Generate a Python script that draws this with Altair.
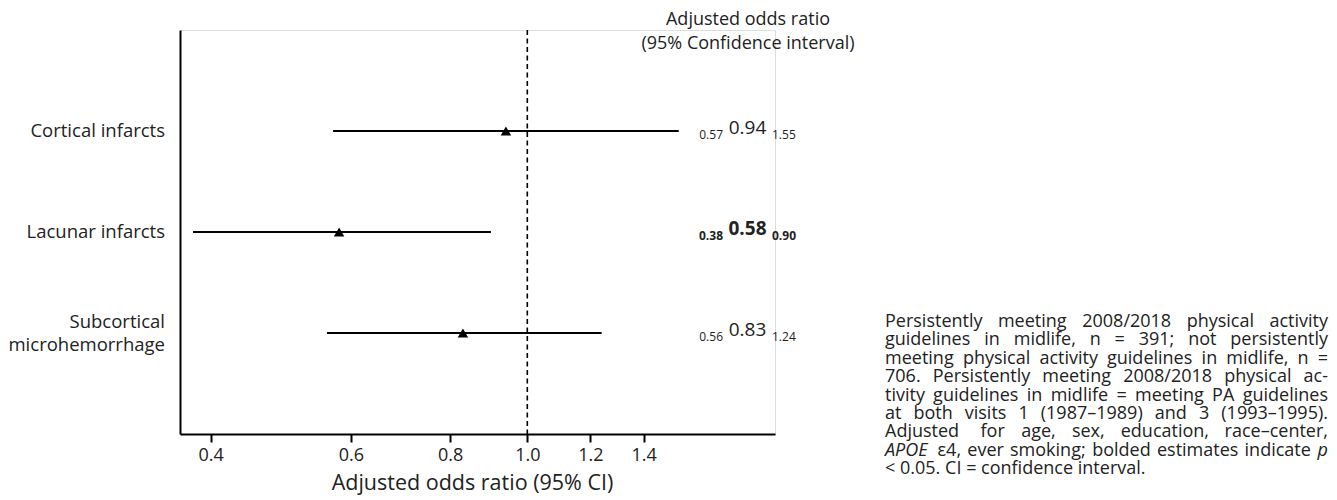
import altair as alt
import pandas as pd

# ---------------- data ----------------
outcomes = ["Cortical infarcts", "Lacunar infarcts", "Subcortical microhemorrhage"]
outcome_labels = ["Cortical infarcts", "Lacunar infarcts", "Subcortical\nmicrohemorrhage"]
or_vals = [0.94, 0.58, 0.83]
ci_low = [0.57, 0.38, 0.56]
ci_high = [1.55, 0.90, 1.24]
significant = [False, True, False]

x_ticks = [0.4, 0.6, 0.8, 1.0, 1.2, 1.4]
x_domain = [0.366, 2.048]
x_title = "Adjusted odds ratio (95% CI)"
header_lines = ["Adjusted odds ratio", "(95% Confidence interval)"]

footnote_lines = [
    "Persistently meeting 2008/2018 physical activity",
    "guidelines in midlife, n = 391; not persistently",
    "meeting physical activity guidelines in midlife, n =",
    "706. Persistently meeting 2008/2018 physical ac-",
    "tivity guidelines in midlife = meeting PA guidelines",
    "at both visits 1 (1987\u20131989) and 3 (1993\u20131995).",
    "Adjusted for age, sex, education, race\u2013center,",
    "APOE \u03b54, ever smoking; bolded estimates indicate p",
    "< 0.05. CI = confidence interval.",
]
italic_words = {"APOE", "p"}

FONT = "Open Sans"
TXT = "#222222"

# approximate Open Sans advance widths (units of 2048 per em), for justifying
ADV = {" ": 532, "(": 606, ")": 606, ",": 502, "-": 659, ".": 545, "/": 752,
       ";": 545, "<": 1171, "=": 1171, "\u2013": 1024, "\u03b5": 1010,
       "A": 1296, "C": 1292, "E": 1139, "I": 571, "O": 1599, "P": 1233,
       "a": 1139, "b": 1255, "c": 975, "d": 1255, "e": 1149, "f": 694,
       "g": 1122, "h": 1257, "i": 518, "k": 1075, "l": 518, "m": 1905,
       "n": 1257, "o": 1237, "p": 1255, "r": 836, "s": 977, "t": 723,
       "u": 1257, "v": 1026, "w": 1593, "x": 1073, "y": 1028}


def text_width(s, fs):
    return sum(ADV.get(ch, 1171 if ch.isdigit() else 1100) for ch in s) * fs / 2048.0


df = pd.DataFrame({
    "outcome": outcomes,
    "label": outcome_labels,
    "or": or_vals,
    "lo": ci_low,
    "hi": ci_high,
    "sig": significant,
})
df["or_txt"] = df["or"].map(lambda v: f"{v:.2f}")
df["lo_txt"] = df["lo"].map(lambda v: f"{v:.2f}")
df["hi_txt"] = df["hi"].map(lambda v: f"{v:.2f}")
df["multi"] = df["label"].str.contains("\n")

x_scale = alt.Scale(type="log", domain=x_domain, nice=False, zero=False)
x_axis = alt.Axis(
    values=x_ticks, format=".1f", title=x_title, grid=False,
    labelFont=FONT, labelFontSize=18, labelColor=TXT, labelPadding=4,
    titleFont=FONT, titleFontSize=21.5, titleFontWeight="normal", titleColor=TXT,
    titlePadding=8, titleX=292, titleAlign="center",
    tickSize=8, tickWidth=2, tickColor="black",
    domainColor="black", domainWidth=2,
)
y_enc = alt.Y(
    "outcome:N", sort=outcomes,
    scale=alt.Scale(type="point", padding=1),
    axis=alt.Axis(labels=False, ticks=False, title=None, grid=False,
                  domainColor="black", domainWidth=2),
)

base = alt.Chart(df)

ci = base.mark_rule(color="black", strokeWidth=2).encode(
    x=alt.X("lo:Q", scale=x_scale, axis=x_axis),
    x2="hi:Q",
    y=y_enc,
)

pts = base.mark_point(shape="triangle-up", filled=True, size=110,
                      color="black", opacity=1).encode(
    x=alt.X("or:Q", scale=x_scale),
    y=y_enc,
)

ref = alt.Chart(pd.DataFrame({"ref": [1.0]})).mark_rule(
    color="black", strokeWidth=1.6, strokeDash=[5, 3.5]
).encode(x=alt.X("ref:Q", scale=x_scale))

ylab_single = base.transform_filter("!datum.multi").mark_text(
    align="right", baseline="middle", font=FONT, fontSize=18.5, color=TXT,
).encode(x=alt.value(-15), y=y_enc, text="label:N")

ylab_multi = base.transform_filter("datum.multi").mark_text(
    align="right", baseline="middle", font=FONT, fontSize=18.5, color=TXT,
    lineBreak="\n", lineHeight=23, dy=-11.5,
).encode(x=alt.value(-15), y=y_enc, text="label:N")

layers = [ci, ref, pts, ylab_single, ylab_multi]

for weight, cond in [("normal", "!datum.sig"), ("bold", "datum.sig")]:
    b = base.transform_filter(cond)
    layers.append(b.mark_text(align="right", baseline="middle", font=FONT,
                              fontSize=12, fontWeight=weight, color=TXT, dy=3.5)
                  .encode(x=alt.value(543), y=y_enc, text="lo_txt:N"))
    layers.append(b.mark_text(align="center", baseline="middle", font=FONT,
                              fontSize=19, fontWeight=weight, color=TXT, dy=-3)
                  .encode(x=alt.value(567.5), y=y_enc, text="or_txt:N"))
    layers.append(b.mark_text(align="left", baseline="middle", font=FONT,
                              fontSize=12, fontWeight=weight, color=TXT, dy=3.5)
                  .encode(x=alt.value(592), y=y_enc, text="hi_txt:N"))

for i, line in enumerate(header_lines):
    layers.append(
        alt.Chart(pd.DataFrame({"t": [line]})).mark_text(
            align="center", baseline="middle", font=FONT, fontSize=18, color=TXT
        ).encode(x=alt.value(568), y=alt.value(-10 + 23.5 * i), text="t:N")
    )

# footnote: justified block (last line left-aligned)
FN_X = 705
FN_W = 443
FN_Y0 = 291.7
FN_LH = 18.45
FN_FS = 18
n_lines = len(footnote_lines)
for i, line in enumerate(footnote_lines):
    yv = FN_Y0 + i * FN_LH
    words = line.split(" ")
    widths = [text_width(w, FN_FS) for w in words]
    if i == n_lines - 1 or len(words) == 1:
        gap = text_width(" ", FN_FS)
    else:
        gap = (FN_W - sum(widths)) / (len(words) - 1)
    xpos = FN_X
    for k, w in enumerate(words):
        last = (k == len(words) - 1) and i != n_lines - 1
        style = "italic" if w in italic_words else "normal"
        layers.append(
            alt.Chart(pd.DataFrame({"t": [w]})).mark_text(
                align="right" if last else "left", baseline="middle",
                font=FONT, fontSize=FN_FS, fontStyle=style, color=TXT
            ).encode(x=alt.value(FN_X + FN_W if last else xpos),
                     y=alt.value(yv), text="t:N")
        )
        xpos += widths[k] + gap

chart = alt.layer(*layers).properties(
    width=595, height=404,
    autosize=alt.AutoSizeParams(type="none"),
    padding={"left": 172, "top": 22, "right": 554, "bottom": 66},
).configure_view(stroke=None).configure(background="white")

chart.save("out.html", embed_options={"renderer": "svg", "actions": False})
